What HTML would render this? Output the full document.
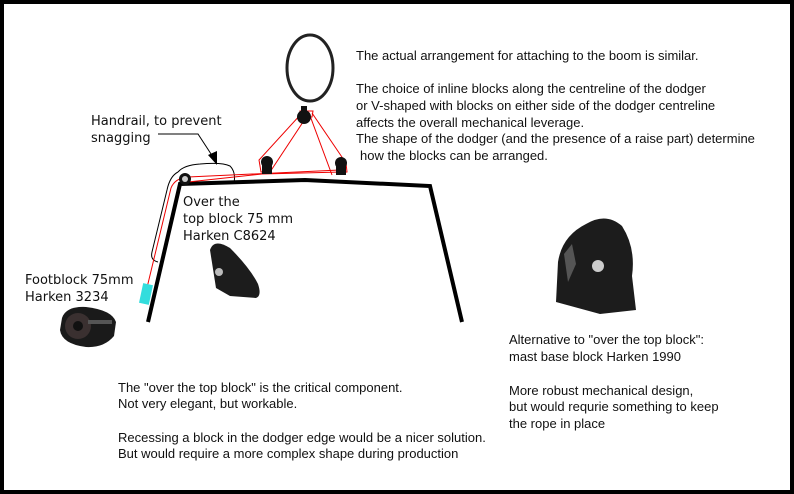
<!DOCTYPE html>
<html><head><meta charset="utf-8"><style>
html,body{margin:0;padding:0;background:#fff}
svg{display:block}
.n{font-family:"Liberation Sans",sans-serif;font-size:13px;fill:#111}
.d{font-family:"DejaVu Sans","Liberation Sans",sans-serif;font-size:13px;fill:#111}
</style></head><body>
<svg width="794" height="494" viewBox="0 0 794 494" xmlns="http://www.w3.org/2000/svg">
<rect x="2" y="2" width="790" height="490" fill="#fff" stroke="#000" stroke-width="4"/>
<!-- dodger -->
<polyline points="148,322 180,184 305,180 430,186 462,322" fill="none" stroke="#000" stroke-width="4"/>
<!-- ellipse -->
<ellipse cx="310" cy="68" rx="23" ry="33" fill="none" stroke="#222" stroke-width="3"/>
<!-- handrail -->
<path d="M178,172 Q184,165 200,164 Q222,162 230,166 Q236,172 234,183" fill="none" stroke="#000" stroke-width="1"/>
<path d="M178,172 Q170,176 167,190 L152,252 Q150,260 158,262" fill="none" stroke="#000" stroke-width="1"/>
<!-- arrow -->
<path d="M158,134 L198,134 L213,157" fill="none" stroke="#000" stroke-width="1"/>
<path d="M208,155 L217,165 L217,151 Z" fill="#000"/>
<!-- red ropes -->
<g fill="none" stroke="#e00" stroke-width="1">
<path d="M145,296 L171,188 Q175,178 188,177 L340,170"/>
<path d="M188,182 L262,174 L342,172"/>
<path d="M302,113 L259,160 L261,172 L270,172 L309,113 L332,175"/>
<path d="M312,113 L346,163 L347,172 L340,173"/>
<path d="M300,111 L313,111 L312,117 L301,117 Z"/>
</g>
<!-- blocks -->
<g fill="#111">
<circle cx="304" cy="117" r="7"/><rect x="301" y="106" width="6" height="6"/>
<circle cx="267" cy="162" r="6"/><rect x="262" y="165" width="10" height="9"/>
<circle cx="341" cy="163" r="6"/><rect x="336" y="166" width="10" height="9"/>
<circle cx="185" cy="179" r="6"/>
</g>
<circle cx="185" cy="179" r="3" fill="#ccc"/>
<!-- cyan -->
<rect x="141" y="284" width="10" height="20" fill="#3dd" transform="rotate(12 146 294)"/>
<!-- footblock image -->
<g>
<path d="M62,318 Q66,306 86,307 Q112,310 116,322 L114,336 Q104,348 86,347 Q62,344 60,330 Z" fill="#1a1a1a"/>
<ellipse cx="78" cy="326" rx="13" ry="13" fill="#3a3030"/>
<circle cx="78" cy="326" r="5" fill="#111"/>
<rect x="88" y="320" width="24" height="4" fill="#555"/>
</g>
<!-- over the top block image -->
<path d="M210,250 Q214,238 230,248 Q250,268 258,284 Q262,296 256,298 L230,296 L216,288 Z" fill="#1c1c1c"/>
<circle cx="219" cy="272" r="4" fill="#bbb"/>
<!-- harken 1990 -->
<path d="M558,262 Q562,236 586,224 Q606,212 622,226 Q636,248 632,276 L636,310 L600,314 L556,302 Z" fill="#1c1c1c"/>
<path d="M564,254 L572,244 L576,264 L568,282 Z" fill="#fff" opacity=".25"/>
<circle cx="598" cy="266" r="6" fill="#ccc"/>
<!-- texts -->
<text class="n" x="356" y="60">The actual arrangement for attaching to the boom is similar.</text>
<text class="n" x="356" y="93">The choice of inline blocks along the centreline  of the dodger</text>
<text class="n" x="356" y="110">or V-shaped with blocks on either side of the dodger centreline</text>
<text class="n" x="356" y="127">affects the overall mechanical leverage.</text>
<text class="n" x="356" y="143">The shape of the dodger (and the presence of a raise part) determine</text>
<text class="n" x="360" y="160">how the blocks can be arranged.</text>
<text class="d" x="91" y="125">Handrail, to prevent</text>
<text class="d" x="91" y="142">snagging</text>
<text class="d" x="183" y="206">Over the</text>
<text class="d" x="183" y="223">top block 75 mm</text>
<text class="d" x="183" y="240">Harken C8624</text>
<text class="d" x="25" y="284">Footblock 75mm</text>
<text class="d" x="25" y="301">Harken 3234</text>
<text class="n" x="509" y="344">Alternative to "over the top block":</text>
<text class="n" x="509" y="361">mast base block Harken 1990</text>
<text class="n" x="509" y="395">More robust mechanical design,</text>
<text class="n" x="509" y="411">but would requrie something to keep</text>
<text class="n" x="509" y="428">the rope in place</text>
<text class="n" x="118" y="392">The "over the top block" is the critical component.</text>
<text class="n" x="118" y="408">Not very elegant, but workable.</text>
<text class="n" x="118" y="442">Recessing a block in the dodger edge would be a nicer solution.</text>
<text class="n" x="118" y="458">But would require a more complex shape during production</text>
</svg>
</body></html>
